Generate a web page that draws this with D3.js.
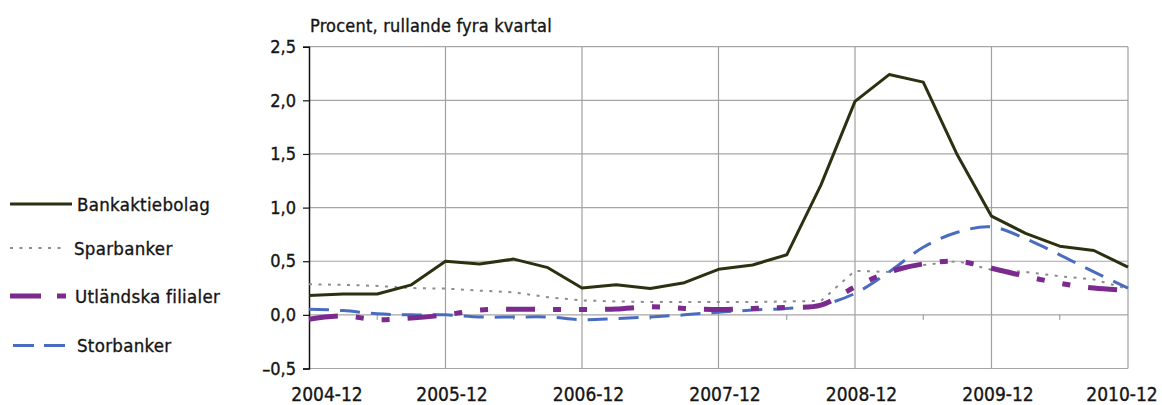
<!DOCTYPE html>
<html>
<head>
	<meta charset="utf-8">
	<script src="https://cdn.jsdelivr.net/npm/d3@7"></script>
	<style>
		body { margin: 0; background: #fff; overflow: hidden; }
		svg { display: block; }
		text { font-family: "DejaVu Sans Condensed", "DejaVu Sans", sans-serif; fill: #151515; stroke: #151515; stroke-width: 0.35px; }
	</style>
</head>
<body>
<div id="chart"></div>
<script>
// kvartal 2004-12 .. 2010-12
var quarters = ["2004-12","2005-03","2005-06","2005-09","2005-12","2006-03","2006-06","2006-09",
	"2006-12","2007-03","2007-06","2007-09","2007-12","2008-03","2008-06","2008-09",
	"2008-12","2009-03","2009-06","2009-09","2009-12","2010-03","2010-06","2010-09","2010-12"];
var yearTicks = ["2004-12","2005-12","2006-12","2007-12","2008-12","2009-12","2010-12"];
var halfYearTicks = ["2005-06","2006-06","2007-06","2008-06","2009-06","2010-06"];
var yTicks = [-0.5, 0, 0.5, 1.0, 1.5, 2.0, 2.5];

var bankaktiebolag = [0.18,0.195,0.195,0.28,0.50,0.475,0.52,0.44,0.25,0.28,0.245,0.30,0.425,0.465,0.56,1.21,
	1.99,2.24,2.17,1.49,0.92,0.76,0.64,0.60,0.445];
var sparbanker = [0.285,0.28,0.27,0.25,0.245,0.226,0.21,0.165,0.135,0.125,0.12,0.12,0.12,0.12,0.125,0.13,
	0.41,0.40,0.465,0.50,0.42,0.40,0.36,0.33,0.24];
var utlandska = [-0.04,-0.01,-0.045,-0.03,0.0,0.045,0.053,0.05,0.05,0.055,0.075,0.06,0.05,0.06,0.07,0.09,
	0.26,0.40,0.475,0.50,0.435,0.36,0.295,0.25,0.23];
var storbanker = [0.053,0.04,0.01,0.0,0.0,-0.02,-0.02,-0.02,-0.045,-0.035,-0.02,0.0,0.025,0.045,0.06,0.09,
	0.20,0.40,0.63,0.77,0.82,0.71,0.56,0.40,0.25];

var seriesNames = ["Bankaktiebolag","Sparbanker","Utländska filialer","Storbanker"];

var W = 1162, H = 405;
var plotLeft = 309, plotRight = 1128, plotTop = 46.7, plotBottom = 368.5;

var svg = d3.select("#chart").append("svg").attr("width", W).attr("height", H);

var x = d3.scalePoint().domain(quarters).range([plotLeft, plotRight]);
var y = d3.scaleLinear().domain([-0.5, 2.5]).range([plotBottom, plotTop]);

var fmt = function(v) { return d3.format(".1f")(v).replace(".", ",").replace("-", "\u2013").replace("\u2212", "\u2013"); };

// gridlines
svg.append("g").selectAll("line").data(yTicks).enter().append("line")
	.attr("x1", plotLeft).attr("x2", plotRight)
	.attr("y1", function(d){ return y(d); }).attr("y2", function(d){ return y(d); })
	.attr("stroke", "#a6a6a6").attr("stroke-width", 1.2);
svg.append("g").selectAll("line").data(yearTicks.slice(1)).enter().append("line")
	.attr("x1", function(d){ return x(d); }).attr("x2", function(d){ return x(d); })
	.attr("y1", plotTop).attr("y2", plotBottom)
	.attr("stroke", "#a0a0a0").attr("stroke-width", 1.2);

// small ticks on the zero line
svg.append("g").selectAll("line").data(halfYearTicks).enter().append("line")
	.attr("x1", function(d){ return x(d); }).attr("x2", function(d){ return x(d); })
	.attr("y1", y(0)).attr("y2", y(0) + 5)
	.attr("stroke", "#909090").attr("stroke-width", 1);

// y axis
var yAxis = d3.axisLeft(y).tickValues(yTicks).tickSize(6).tickPadding(7).tickFormat(fmt);
var ga = svg.append("g").attr("transform", "translate(" + plotLeft + ",0)").call(yAxis);
ga.select(".domain").attr("stroke", "#111").attr("stroke-width", 1.5);
ga.selectAll(".tick line").attr("stroke", "#111").attr("stroke-width", 1.2);
ga.selectAll(".tick text").attr("font-size", 18).attr("fill", "#151515")
	.style("font-family", "'DejaVu Sans Condensed', 'DejaVu Sans', sans-serif");

// x labels
svg.append("g").selectAll("text").data(yearTicks).enter().append("text")
	.attr("x", function(d){ return Math.min(Math.max(x(d) + 6.5, 327), 1122); })
	.attr("y", 401)
	.attr("text-anchor", "middle")
	.attr("font-size", 19)
	.text(function(d){ return d; });

// title
svg.append("text").attr("x", 310).attr("y", 31.5).attr("font-size", 18)
	.attr("letter-spacing", 0.2)
	.text("Procent, rullande fyra kvartal");

// lines
var straight = d3.line().x(function(d, i){ return x(quarters[i]); }).y(function(d){ return y(d); });
var smooth = d3.line().x(function(d, i){ return x(quarters[i]); }).y(function(d){ return y(d); })
	.curve(d3.curveCatmullRom.alpha(0.5));

var styles = [
	{ data: sparbanker, color: "#8c8c8c", width: 2, dash: "3,6.5", line: straight },
	{ data: storbanker, color: "#4a6cc0", width: 3, dash: "20,11", line: smooth },
	{ data: utlandska, color: "#7b2a8e", width: 5, dash: "29,18,8,18,8,18", line: smooth },
	{ data: bankaktiebolag, color: "#2b3011", width: 3, dash: null, line: straight }
];
styles.forEach(function(s) {
	svg.append("path").datum(s.data)
		.attr("d", s.line)
		.attr("fill", "none")
		.attr("stroke", s.color)
		.attr("stroke-width", s.width)
		.attr("stroke-dasharray", s.dash)
		.attr("stroke-linejoin", "round");
});

// legend
var legend = [
	{ name: seriesNames[0], color: "#2b3011", width: 3, dash: null, y: 204, x1: 10, x2: 72, tx: 77 },
	{ name: seriesNames[1], color: "#8c8c8c", width: 2, dash: "3,6.5", y: 248, x1: 10, x2: 66, tx: 74 },
	{ name: seriesNames[2], color: "#7b2a8e", width: 5, dash: "31,16,9,100", y: 296, x1: 10, x2: 66, tx: 75 },
	{ name: seriesNames[3], color: "#4a6cc0", width: 3, dash: "21,10", y: 345.5, x1: 13, x2: 65, tx: 77 }
];
var lg = svg.append("g").selectAll("g").data(legend).enter().append("g");
lg.append("line")
	.attr("x1", function(d){ return d.x1; }).attr("x2", function(d){ return d.x2; })
	.attr("y1", function(d){ return d.y; }).attr("y2", function(d){ return d.y; })
	.attr("stroke", function(d){ return d.color; })
	.attr("stroke-width", function(d){ return d.width; })
	.attr("stroke-dasharray", function(d){ return d.dash; });
lg.append("text")
	.attr("x", function(d){ return d.tx; })
	.attr("y", function(d){ return d.y + 6.5; })
	.attr("font-size", 18.5)
	.attr("letter-spacing", 0.3)
	.text(function(d){ return d.name; });
</script>
</body>
</html>
